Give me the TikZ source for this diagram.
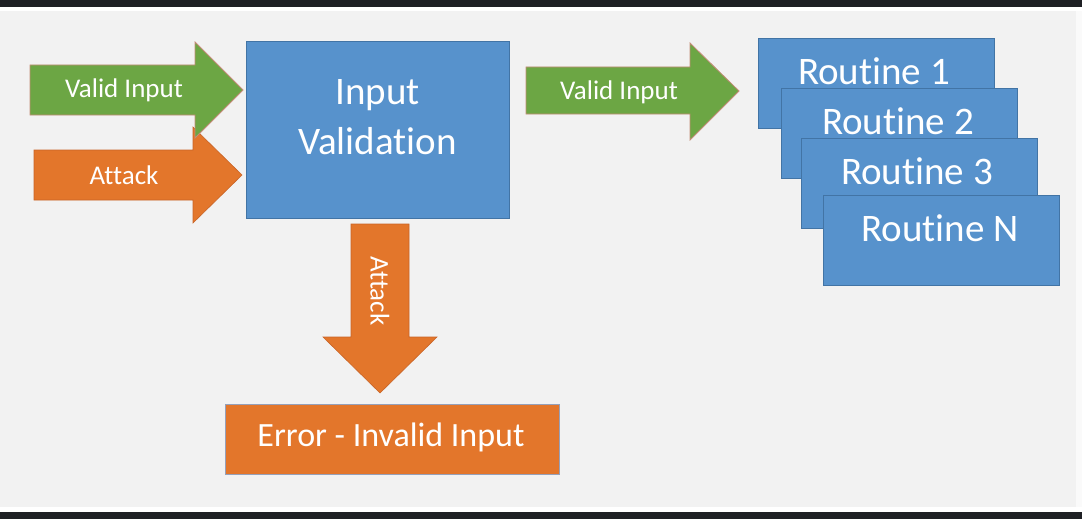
\documentclass[tikz,border=0pt]{standalone}
\usepackage{fontspec}
\setmainfont[Ligatures={NoCommon}]{Carlito}
\definecolor{bg}{RGB}{242,242,242}
\definecolor{band}{RGB}{30,32,36}
\definecolor{bluefill}{RGB}{87,146,204}
\definecolor{blueedge}{RGB}{66,116,165}
\definecolor{orangefill}{RGB}{227,118,43}
\definecolor{orangeedge}{RGB}{200,100,40}
\definecolor{greenfill}{RGB}{108,166,68}
\definecolor{greenedge}{RGB}{196,140,120}
\definecolor{erroredge}{RGB}{150,160,185}
\tikzset{
  bluebox/.style={fill=bluefill,draw=blueedge,line width=0.8pt},
  greenarrow/.style={fill=greenfill,draw=greenedge,line width=0.8pt},
  orangearrow/.style={fill=orangefill,draw=orangeedge,line width=0.6pt},
  smalllabel/.style={text=white,font=\fontsize{27}{30}\selectfont,inner sep=0pt},
  biglabel/.style={text=white,font=\fontsize{39}{50}\selectfont,inner sep=0pt,align=center},
}
\begin{document}
\begin{tikzpicture}[x=1pt,y=-1pt]
\useasboundingbox (0,0) rectangle (1082,519);
\fill[bg] (0,0) rectangle (1082,519);
\fill[white] (0,7) rectangle (1082,11);
\fill[white] (0,507) rectangle (1082,512);
\fill[band] (0,0) rectangle (1082,7.5);
\fill[band] (0,511.5) rectangle (1082,519);
\fill[white!60!bg] (1076,11) rectangle (1082,507);

% Input Validation box
\draw[bluebox] (246,41) rectangle (509,218);
\node[biglabel] (valid) at (377.5,117) {Input\\Validation};

% left arrows
\draw[orangearrow] (34,150) -- (193,150) -- (193,127) -- (242,175) -- (193,223) -- (193,200) -- (34,200) -- cycle;
\node[smalllabel] (attackin) at (124,175) {Attack};
\draw[greenarrow] (30,65) -- (195,65) -- (195,42) -- (243,90) -- (195,138) -- (195,115) -- (30,115) -- cycle;
\node[smalllabel] (validin) at (124,90) {Valid Input};

% down arrow
\draw[orangearrow] (351,224) -- (409,224) -- (409,337) -- (437,337) -- (380,393) -- (323,337) -- (351,337) -- cycle;
\node[smalllabel,rotate=-90] (attackdown) at (380,291) {Attack};

% error box
\draw[fill=orangefill,draw=erroredge,line width=0.8pt] (225,404) rectangle (559,474);
\node[text=white,font=\fontsize{34}{40}\selectfont,inner sep=0pt] (error) at (391,437) {Error - Invalid Input};

% right green arrow
\draw[greenarrow] (526,67) -- (690,67) -- (690,43) -- (739,91) -- (690,140) -- (690,114) -- (526,114) -- cycle;
\node[smalllabel] (validout) at (619,92) {Valid Input};

% routines
\draw[bluebox] (758,38) rectangle (994,128);
\node[biglabel] (r1) at (874,71) {Routine 1};
\draw[bluebox] (781,88) rectangle (1017,178);
\node[biglabel] (r2) at (898,121) {Routine 2};
\draw[bluebox] (801,138) rectangle (1037,228);
\node[biglabel] (r3) at (917,171) {Routine 3};
\draw[bluebox] (823,195) rectangle (1059,285);
\node[biglabel] (rn) at (940,228) {Routine N};
\end{tikzpicture}
\end{document}
